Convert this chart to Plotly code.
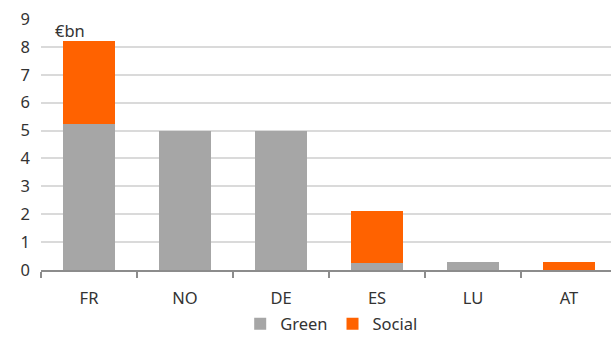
import plotly.graph_objects as go

countries = ["FR", "NO", "DE", "ES", "LU", "AT"]
green = [5.22, 5.0, 5.0, 0.25, 0.3, 0.0]
social = [3.0, 0.0, 0.0, 1.85, 0.0, 0.3]
y_ticks = list(range(0, 10))

GREY = "#A6A6A6"
ORANGE = "#FF6200"
TEXT = "#333333"
FONT = "Noto Sans"
SIZE = 16.5

fig = go.Figure()
fig.add_trace(go.Bar(x=countries, y=green, name="Green", marker_color=GREY,
                     marker_line_width=0, width=0.54))
fig.add_trace(go.Bar(x=countries, y=social, name="Social", marker_color=ORANGE,
                     marker_line_width=0, width=0.54))

fig.update_layout(
    barmode="stack",
    width=611, height=338,
    margin=dict(l=41, r=0, t=19, b=68, autoexpand=False),
    paper_bgcolor="white", plot_bgcolor="white",
    font=dict(family=FONT, size=SIZE, color=TEXT),
    showlegend=True,
    legend=dict(orientation="h", x=0.51, xanchor="center", xref="paper",
                yref="container", y=14 / 338, yanchor="middle",
                font=dict(size=SIZE, color=TEXT), itemwidth=30, traceorder="normal",
                itemclick=False, tracegroupgap=0),
    xaxis=dict(range=[-0.5, 5.4375], showgrid=False, showline=True, automargin=False,
               linecolor="#8C8C8C", linewidth=1.5, ticks="outside",
               tickson="boundaries", ticklen=6, tickcolor="#8C8C8C", tickwidth=1.5,
               ticklabelstandoff=12,
               tickfont=dict(size=SIZE, color=TEXT), fixedrange=True),
    yaxis=dict(range=[0, 9], tickvals=y_ticks, showgrid=True, gridcolor="#DADADA",
               gridwidth=1.5, zeroline=False, showline=False, ticks="", automargin=False,
               ticklabelstandoff=10, tickfont=dict(size=SIZE, color=TEXT), fixedrange=True),
    annotations=[dict(text="€bn", xref="paper", yref="y", x=(53 - 41) / 570, y=8.57,
                      xanchor="left", yanchor="middle", showarrow=False,
                      font=dict(size=SIZE, color=TEXT))],
)

fig.write_html("out.html", config={"displayModeBar": False})
